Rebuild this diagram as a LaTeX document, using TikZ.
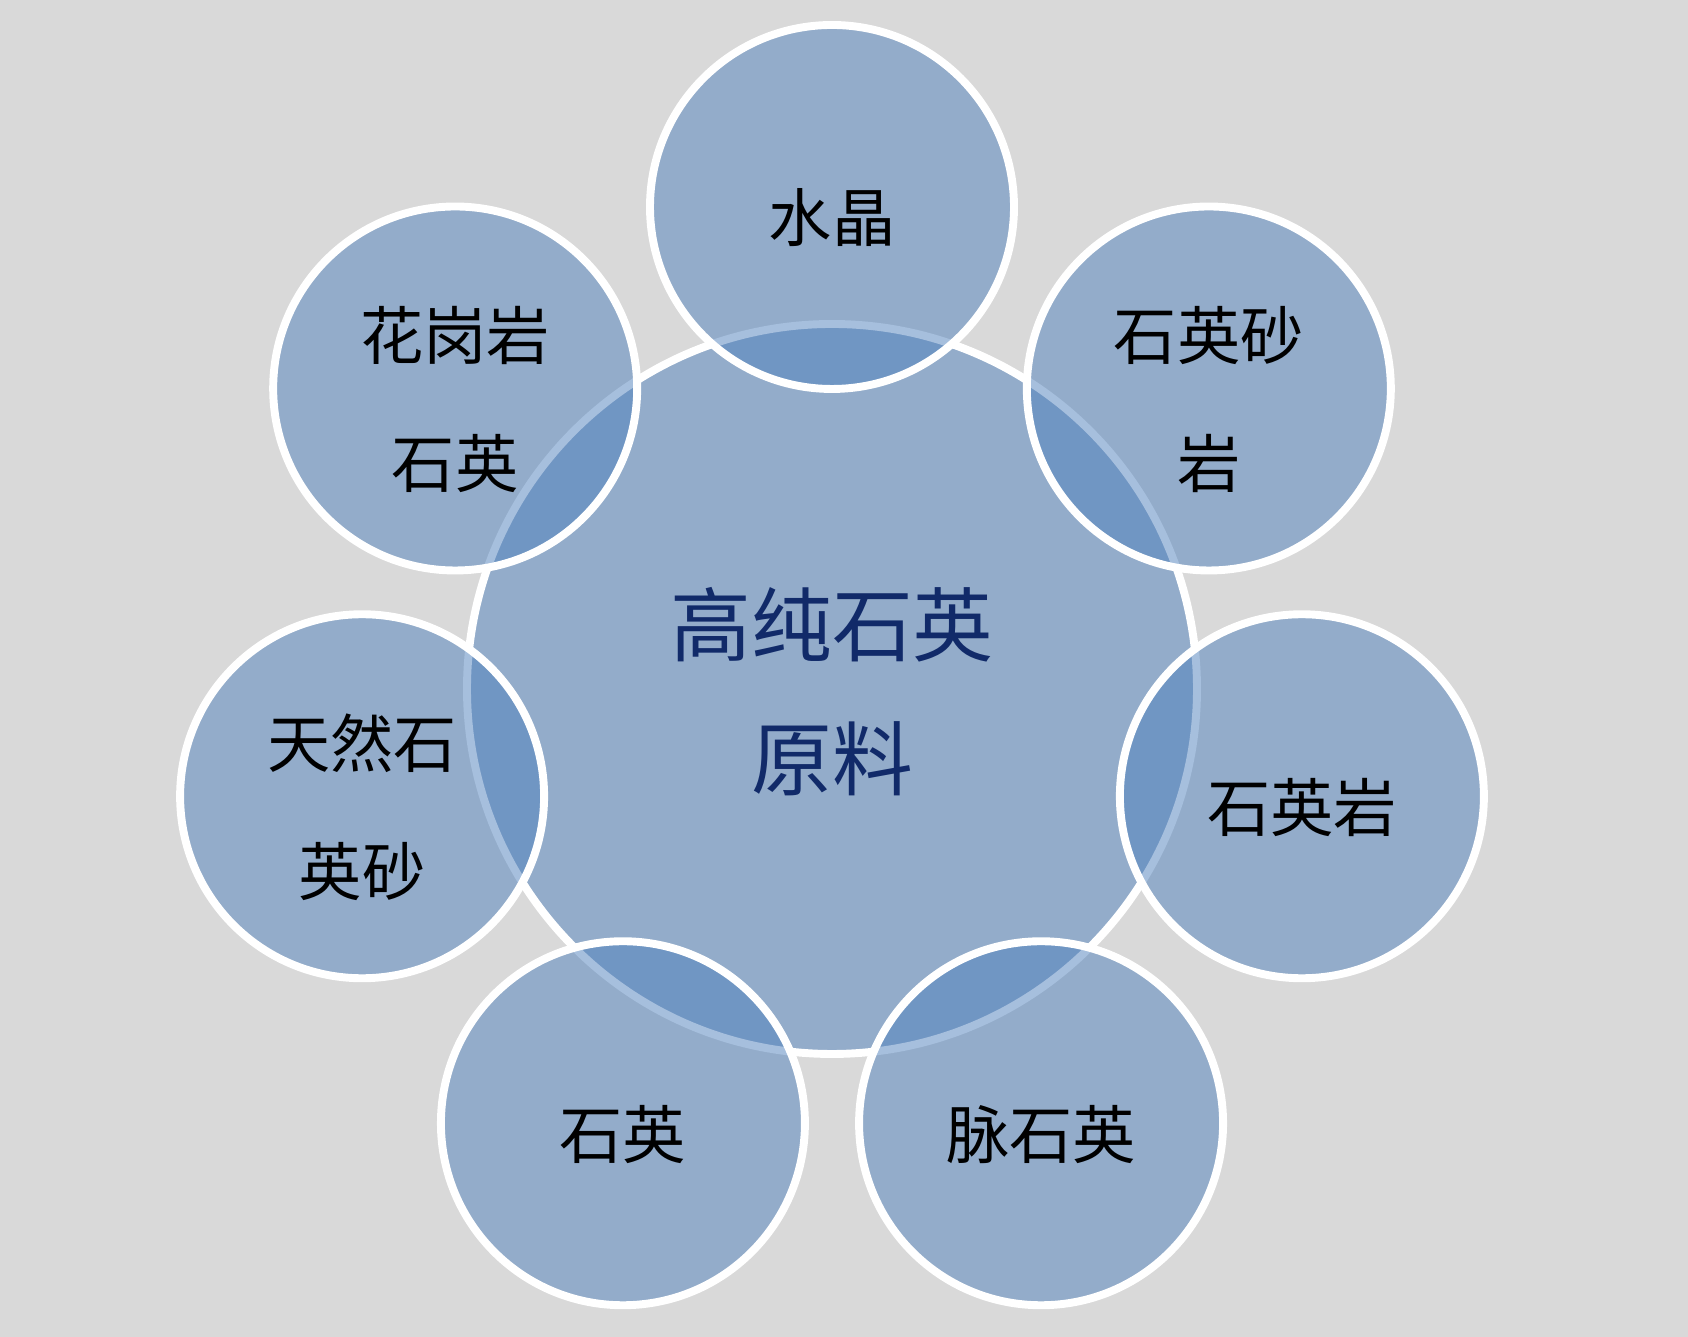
\documentclass[tikz,border=0pt]{standalone}
\usepackage{fontspec}
\setmainfont{Noto Sans CJK SC}
\usepackage{tikz}
\usetikzlibrary{calc}
\definecolor{bggray}{RGB}{217,217,217}
\definecolor{petal}{RGB}{79,129,189}
\definecolor{hubtext}{RGB}{17,42,105}

\begin{document}
\begin{tikzpicture}[
  hub/.style={circle,inner sep=0pt,minimum size=14.6cm,fill=petal,fill opacity=.5,
    draw=white,line width=4.5pt},
  petalnode/.style={circle,inner sep=0pt,minimum size=7.28cm,fill=petal,fill opacity=.5,
    draw=white,line width=4.5pt},
  hubtextnode/.style={align=center,text=hubtext,font=\fontsize{46}{76}\selectfont},
  petaltext/.style={align=center,text=black,font=\fontsize{36}{73}\selectfont}]
% the page and its grey ground
\useasboundingbox (0,0) rectangle (33.76,26.74);
\fill[bggray] (0,0) rectangle (33.76,26.74);
% the centre
\coordinate (O) at (16.64,12.96);
\node[hub] (hub) at (O) {};
% the seven sources round it
\node[petalnode] (crystal) at ($(O)+(90:9.64)$) {};
\node[petalnode] (sandstone) at ($(O)+(38.57:9.64)$) {};
\node[petalnode] (quartzite) at ($(O)+(-12.86:9.64)$) {};
\node[petalnode] (vein) at ($(O)+(-64.29:9.64)$) {};
\node[petalnode] (quartz) at ($(O)+(-115.71:9.64)$) {};
\node[petalnode] (sand) at ($(O)+(-167.14:9.64)$) {};
\node[petalnode] (granite) at ($(O)+(141.43:9.64)$) {};
% the texts, a little below each centre
\node[hubtextnode] (hublabel) at ([yshift=-.05cm]hub) {高纯石英\\原料};
\node[petaltext] (crystallabel) at ([yshift=-.22cm]crystal) {水晶};
\node[petaltext] (sandstonelabel) at ([yshift=-.22cm]sandstone) {石英砂\\岩};
\node[petaltext] (quartzitelabel) at ([yshift=-.22cm]quartzite) {石英岩};
\node[petaltext] (veinlabel) at ([yshift=-.22cm]vein) {脉石英};
\node[petaltext] (quartzlabel) at ([yshift=-.22cm]quartz) {石英};
\node[petaltext] (sandlabel) at ([yshift=-.22cm]sand) {天然石\\英砂};
\node[petaltext] (granitelabel) at ([yshift=-.22cm]granite) {花岗岩\\石英};
\end{tikzpicture}
\end{document}
